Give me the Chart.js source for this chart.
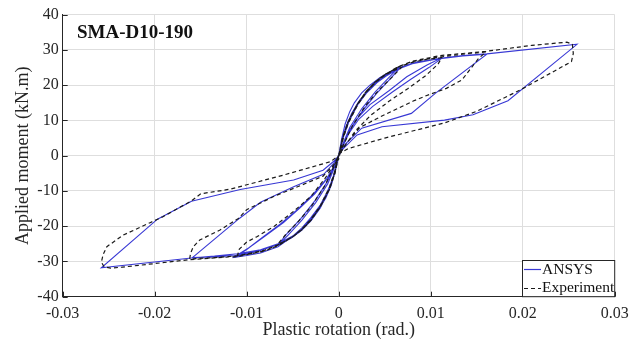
<!DOCTYPE html>
<html>
<head>
<meta charset="utf-8">
<script src="https://cdn.jsdelivr.net/npm/chart.js@4/dist/chart.umd.min.js"></script>
<style>
  html, body { margin: 0; padding: 0; background: #fff; }
  #wrap { width: 629px; height: 343px; }
</style>
</head>
<body>
<div id="wrap"><canvas id="c" width="629" height="343"></canvas></div>
<script>
// ---------- DATA ----------
const chartTitle = 'SMA-D10-190';
const xTitle = 'Plastic rotation (rad.)';
const yTitle = 'Applied moment (kN.m)';
const seriesNames = ['ANSYS', 'Experiment'];
const xTicks = [-0.03, -0.02, -0.01, 0, 0.01, 0.02, 0.03];
const yTicks = [-40, -30, -20, -10, 0, 10, 20, 30, 40];

// ANSYS cycles: [rotation (rad), moment (kN.m)]
const ansysA1 = [[0,0],[0.0003,4.5],[0.0007,9],[0.0012,12.5],[0.0017,15],[0.0025,17.8],[0.0034,20],[0.0045,22.2],[0.0055,23.7],[0.0066,25.2],
  [0.0055,22.3],[0.004,18.2],[0.0025,13.3],[0.0012,8],[0.0004,3],[0,0],
  [-0.0003,-3.5],[-0.0007,-7],[-0.0013,-10.5],[-0.002,-14],[-0.003,-17.5],[-0.004,-20.5],[-0.005,-22.8],[-0.006,-24.4],[-0.0065,-25.2],
  [-0.0055,-22.5],[-0.004,-18.3],[-0.0025,-13.3],[-0.0012,-8],[-0.0004,-3],[0,0]];
const ansysA2 = [[0.0003,3.6],[0.0008,8.3],[0.0014,12],[0.0022,15.4],[0.0032,18.6],[0.0042,21],[0.0052,23],[0.0062,24.5],[0.0067,25],
  [0.0056,21.8],[0.0041,17.6],[0.0026,12.8],[0.0013,7.6],[0.0004,2.6],[0,-0.2],
  [-0.0003,-3.6],[-0.0008,-8.3],[-0.0014,-12],[-0.0022,-15.4],[-0.0032,-18.8],[-0.0042,-21.5],[-0.0052,-23.4],[-0.0062,-24.8],[-0.0066,-25.3],
  [-0.0056,-22],[-0.0041,-17.8],[-0.0026,-12.8],[-0.0013,-7.6],[-0.0004,-2.6],[0,0.2]];
const ansysB1 = [[0.0004,4.8],[0.001,9.6],[0.002,14.6],[0.003,18.1],[0.004,20.7],[0.005,22.6],[0.0065,24.8],[0.008,26.2],[0.0095,27],[0.011,27.5],
  [0.0096,25.7],[0.0074,22.4],[0.0055,18.5],[0.0034,14.5],[0.002,10.5],[0.001,6.5],[0.0003,2],[0,0],
  [-0.0004,-4.8],[-0.001,-9.6],[-0.002,-14.8],[-0.003,-18.4],[-0.004,-21.1],[-0.005,-23.1],[-0.0066,-25.2],[-0.0085,-26.9],[-0.01,-27.9],[-0.0113,-28.6],
  [-0.0098,-26.2],[-0.008,-22.8],[-0.006,-19],[-0.0042,-14.8],[-0.0026,-10.8],[-0.0012,-6.3],[-0.0004,-2.3],[0,0]];
const ansysB2 = [[0.0004,4.4],[0.0011,9.6],[0.0021,14.6],[0.0031,18],[0.0042,20.8],[0.0055,23.2],[0.007,25.3],[0.0085,26.6],[0.0112,27.6],
  [0.0098,25],[0.0078,21.6],[0.0058,18],[0.0037,14],[0.0022,10.4],[0.0011,6.3],[0.0003,1.8],[0,0],
  [-0.0004,-4.4],[-0.0011,-9.6],[-0.0021,-14.8],[-0.0031,-18.4],[-0.0042,-21.3],[-0.0055,-23.8],[-0.0066,-25.8],[-0.0085,-27.6],[-0.01,-28.3],[-0.0113,-28.8],
  [-0.01,-26.6],[-0.0083,-23.2],[-0.0063,-19.3],[-0.0045,-15.3],[-0.0028,-11],[-0.0013,-6.5],[-0.0004,-2.4],[0,0]];
const ansysC = [[0.0004,4.6],[0.001,9.4],[0.002,14.4],[0.003,17.9],[0.004,20.5],[0.005,22.5],[0.0065,24.6],[0.008,26.1],[0.0095,27],[0.011,27.5],[0.0135,28.3],[0.0161,28.8],
  [0.0105,17.7],[0.0079,12],[0.0025,7.8],[0.0008,3.5],[0,0],
  [-0.0004,-4.6],[-0.001,-9.4],[-0.002,-14.6],[-0.003,-18.2],[-0.004,-20.9],[-0.005,-22.9],[-0.0066,-25],[-0.0085,-26.8],[-0.0113,-28.3],[-0.0135,-28.7],[-0.0159,-28.9],
  [-0.0108,-17.8],[-0.0085,-13.2],[-0.0049,-8.8],[-0.0016,-5.2],[-0.0005,-2],[0,0]];
const ansysD = [[0.0004,4.6],[0.001,9.3],[0.002,14.3],[0.003,17.8],[0.004,20.4],[0.005,22.4],[0.0065,24.6],[0.008,26.1],[0.011,27.6],[0.0135,28.4],[0.0161,28.9],[0.0259,31.6],
  [0.0184,15.6],[0.0146,11.6],[0.0115,10.1],[0.0047,8.2],[0.002,5.9],[0.0005,2],[0,0.3],
  [-0.0004,-4.4],[-0.001,-9.2],[-0.002,-14.3],[-0.003,-17.9],[-0.004,-20.7],[-0.005,-22.8],[-0.0066,-25],[-0.0085,-26.7],[-0.011,-27.8],[-0.0135,-28.5],[-0.016,-29],[-0.0258,-31.8],
  [-0.0197,-18],[-0.016,-12.9],[-0.0107,-9.6],[-0.0049,-6.9],[-0.0017,-4.1],[-0.0005,-1.5],[0,0]];

// Experiment cycles
const expA = [[0,0],[0.0004,5],[0.001,9.5],[0.002,14.5],[0.003,18],[0.004,20.8],[0.005,22.8],[0.006,24.2],[0.0068,25],
  [0.0058,22.3],[0.0045,19],[0.003,14.5],[0.0015,8.5],[0.0005,3],[0,0],
  [-0.0004,-5],[-0.001,-9.5],[-0.002,-14.5],[-0.003,-18.2],[-0.004,-21],[-0.005,-23],[-0.006,-24.5],[-0.0066,-25],
  [-0.0058,-22.5],[-0.0045,-19],[-0.003,-14.5],[-0.0015,-8.5],[-0.0005,-3],[0,0]];
const expB = [[0.0005,5.5],[0.001,9.5],[0.002,14.5],[0.003,18.3],[0.004,21],[0.005,23],[0.0065,25.2],[0.008,26.5],[0.0095,27.3],[0.0112,27.8],
  [0.0108,26],[0.0095,22.8],[0.0075,19],[0.0055,15.5],[0.0035,11.5],[0.0018,7],[0.0006,2.5],[0,0],
  [-0.0005,-5.5],[-0.001,-9.5],[-0.002,-14.5],[-0.003,-18.3],[-0.004,-21],[-0.005,-23],[-0.0065,-25.2],[-0.008,-26.8],[-0.0095,-27.8],[-0.011,-28.3],
  [-0.0108,-26.5],[-0.01,-24.5],[-0.0089,-23],[-0.007,-20],[-0.005,-16],[-0.003,-11.5],[-0.0015,-6.5],[-0.0005,-2.5],[0,0]];
const expC = [[0.0005,5.5],[0.001,9.5],[0.002,14.5],[0.003,18.3],[0.004,21],[0.005,23],[0.0065,25.3],[0.008,26.7],[0.011,28],[0.0135,28.8],[0.016,29.4],
  [0.0152,27.6],[0.0134,21.5],[0.0117,19.1],[0.0095,17],[0.0081,15.5],[0.0045,11],[0.0023,8],[0.001,4],[0,0.5],
  [-0.0005,-5.5],[-0.001,-9.5],[-0.002,-14.5],[-0.003,-18.3],[-0.004,-21],[-0.005,-23],[-0.0065,-25.2],[-0.008,-26.8],[-0.011,-28.4],[-0.0135,-28.9],[-0.0162,-29.3],
  [-0.0161,-27.7],[-0.0158,-25.8],[-0.0151,-23.9],[-0.0129,-21.1],[-0.0109,-17.8],[-0.01,-15.3],[-0.007,-11.5],[-0.004,-8.3],[-0.0017,-5.8],[0,-1]];
const expD = [[0.0005,5],[0.001,9],[0.002,14.2],[0.003,18],[0.004,20.8],[0.005,22.9],[0.0065,25.2],[0.008,26.8],[0.011,28.4],[0.0135,29],[0.016,29.6],[0.021,31.3],[0.0248,32.2],
  [0.0254,31.6],[0.0255,29],[0.0253,26.7],[0.0197,18.6],[0.015,12.6],[0.0115,9.3],[0.005,5],[0.001,2],[0,0.5],
  [-0.0005,-5],[-0.001,-9],[-0.002,-14.2],[-0.003,-18],[-0.004,-20.8],[-0.005,-23],[-0.0065,-25.4],[-0.008,-27],[-0.011,-28.6],[-0.0135,-29],[-0.0162,-29.5],[-0.02,-30.6],[-0.0235,-31.6],[-0.0248,-31.9],[-0.0255,-31.5],[-0.0258,-30.2],[-0.0256,-28],[-0.0252,-25.8],
  [-0.0234,-22.5],[-0.0205,-19],[-0.0191,-17.3],[-0.016,-12.8],[-0.015,-10.8],[-0.0118,-9.5],[-0.006,-5.5],[-0.0009,-1.7],[0,0]];

// ---------- BUILD ----------
const toPts = arrs => [].concat(...arrs).map(p => ({x: p[0], y: p[1]}));
const ansysPts = toPts([ansysA1, ansysA2, ansysB1, ansysB2, ansysC, ansysD]);
const expPts = toPts([expA, expB, expC, expD]);

const SERIF = '"Liberation Serif", "Times New Roman", serif';
const BLUE = '#3838d4';
const DARK = '#262626';

const fmtX = v => (Math.abs(v) < 1e-12 ? '0' : v.toFixed(2));

const overlay = {
  id: 'overlay',
  afterDraw(chart) {
    const {ctx, chartArea: a, scales: {x, y}} = chart;
    ctx.save();
    // inner tick marks
    ctx.strokeStyle = DARK; ctx.lineWidth = 1;
    ctx.beginPath();
    xTicks.forEach(v => {
      const px = Math.round(x.getPixelForValue(v)) + 0.5;
      ctx.moveTo(px, a.bottom); ctx.lineTo(px, a.bottom - 5);
    });
    yTicks.forEach(v => {
      const py = Math.round(y.getPixelForValue(v)) + 0.5;
      ctx.moveTo(a.left, py); ctx.lineTo(a.left + 5, py);
    });
    ctx.stroke();
    // title inside the plot
    ctx.fillStyle = '#111';
    ctx.font = 'bold 19px ' + SERIF;
    ctx.textAlign = 'left'; ctx.textBaseline = 'middle';
    ctx.fillText(chartTitle, 77, 33);
    // legend box
    const lx = 522.5, ly = 260.5, lw = a.right - 522.5, lh = a.bottom - 260.5;
    ctx.fillStyle = '#fff';
    ctx.fillRect(lx, ly, lw, lh);
    ctx.strokeStyle = DARK; ctx.lineWidth = 1;
    ctx.strokeRect(lx, ly, lw, lh);
    ctx.font = '15.5px ' + SERIF;
    ctx.fillStyle = '#111';
    ctx.textBaseline = 'middle';
    // ANSYS entry
    ctx.strokeStyle = BLUE; ctx.lineWidth = 1.2;
    ctx.beginPath(); ctx.moveTo(524, 269.5); ctx.lineTo(541, 269.5); ctx.stroke();
    ctx.fillText(seriesNames[0], 542, 270);
    // Experiment entry
    ctx.strokeStyle = '#1a1a1a'; ctx.setLineDash([4, 3]);
    ctx.beginPath(); ctx.moveTo(524, 288.5); ctx.lineTo(541, 288.5); ctx.stroke();
    ctx.setLineDash([]);
    ctx.fillText(seriesNames[1], 542, 288);
    ctx.restore();
  }
};

new Chart(document.getElementById('c'), {
  type: 'scatter',
  data: {
    datasets: [
      { label: seriesNames[1], data: expPts, showLine: true, order: 0,
        borderColor: '#1a1a1a', borderWidth: 1.2, borderDash: [4, 3], pointRadius: 0, fill: false, tension: 0 },
      { label: seriesNames[0], data: ansysPts, showLine: true, order: 1,
        borderColor: BLUE, borderWidth: 1.1, pointRadius: 0, fill: false, tension: 0 }
    ]
  },
  options: {
    responsive: false,
    animation: false,
    events: [],
    layout: { padding: { left: 0, right: 14.3, top: 14.7, bottom: 0 } },
    plugins: { legend: { display: false }, tooltip: { enabled: false } },
    scales: {
      x: {
        type: 'linear', min: -0.03, max: 0.03,
        afterBuildTicks: s => { s.ticks = xTicks.map(v => ({value: v})); },
        afterFit: s => { s.height = 46.3; s.paddingLeft = 0; s.paddingRight = 0; },
        ticks: { font: { family: SERIF, size: 16 }, color: DARK, padding: 7, maxRotation: 0, autoSkip: false, callback: v => fmtX(v) },
        grid: { color: '#dedede', drawTicks: false },
        border: { color: DARK, width: 1 },
        title: { display: true, text: xTitle, font: { family: SERIF, size: 18 }, color: DARK, padding: { top: 0, bottom: 2 } }
      },
      y: {
        type: 'linear', min: -40, max: 40,
        afterBuildTicks: s => { s.ticks = yTicks.map(v => ({value: v})); },
        afterFit: s => { s.width = 62.7; s.paddingTop = 0; s.paddingBottom = 0; },
        ticks: { font: { family: SERIF, size: 16 }, color: DARK, padding: 4, autoSkip: false, callback: v => String(v) },
        grid: { color: '#dedede', drawTicks: false },
        border: { color: DARK, width: 1 },
        title: { display: true, text: yTitle, font: { family: SERIF, size: 18 }, color: DARK, padding: { top: 12, bottom: 0 } }
      }
    }
  },
  plugins: [overlay]
});
</script>
</body>
</html>
